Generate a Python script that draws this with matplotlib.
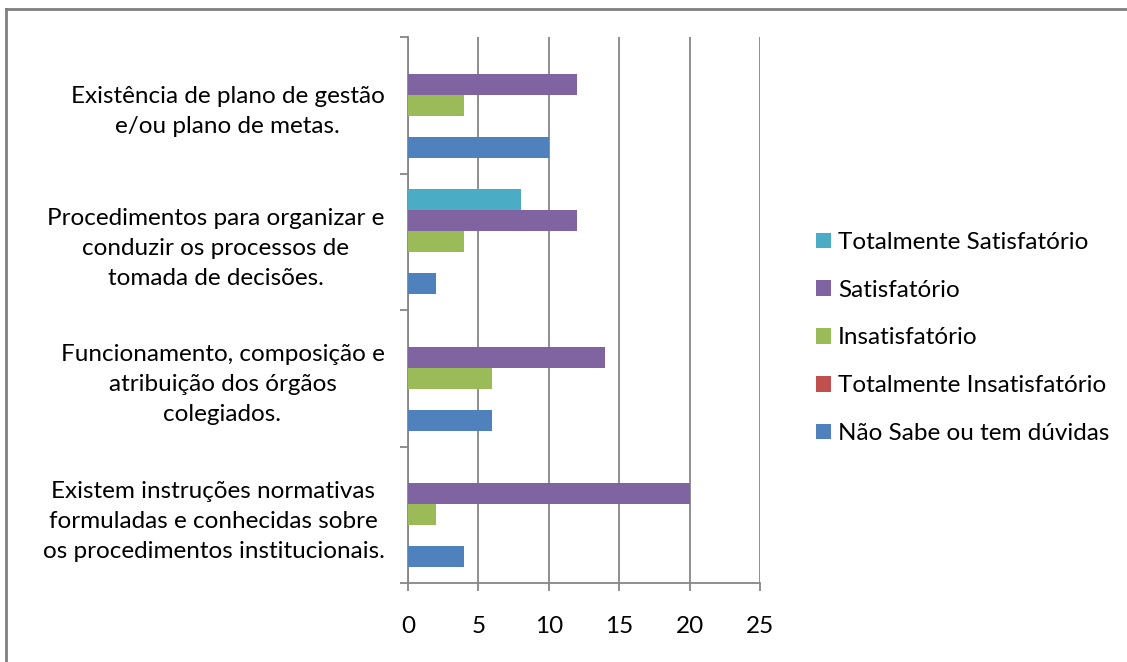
import matplotlib.pyplot as plt
from matplotlib.lines import Line2D
import numpy as np

plt.rcParams['font.family'] = ['Lato', 'DejaVu Sans']

# Categories from bottom to top
categories = [
    "Existem instruções normativas\nformuladas e conhecidas sobre\nos procedimentos institucionais.",
    "Funcionamento, composição e\natribuição dos órgãos\ncolegiados.",
    "Procedimentos para organizar e\nconduzir os processos de\ntomada de decisões.",
    "Existência de plano de gestão\ne/ou plano de metas.",
]

series_names = ["Não Sabe ou tem dúvidas", "Totalmente Insatisfatório",
                "Insatisfatório", "Satisfatório", "Totalmente Satisfatório"]
nao_sabe = [4, 6, 2, 10]
tot_insat = [0, 0, 0, 0]
insat = [2, 6, 4, 4]
satisf = [20, 14, 12, 12]
tot_satisf = [0, 0, 8, 0]
colors = ["#4F81BD", "#C0504D", "#9BBB59", "#8064A2", "#4BACC6"]

values = [nao_sabe, tot_insat, insat, satisf, tot_satisf]
fs = 17.5

fig = plt.figure(figsize=(11.27, 6.62), dpi=100)
ax = fig.add_axes([408 / 1127, 1 - 583 / 662, 352 / 1127, 546 / 662])

y = np.arange(len(categories))
h = 0.154
for k, (name, vals, col) in enumerate(zip(series_names, values, colors)):
    ax.barh(y + (k - 2) * h, vals, height=h, color=col, label=name,
            linewidth=0, zorder=3)

ax.set_xlim(0, 25)
ax.set_ylim(-0.5, 3.5)
ax.set_xticks(range(0, 26, 5))
ax.set_yticks(y)
ax.set_yticklabels(categories, multialignment='center', fontsize=fs,
                   linespacing=1.52)
ax.set_yticks(np.arange(-0.5, 3.6, 1), minor=True)
ax.tick_params(axis='y', which='major', length=0, pad=17)
ax.tick_params(axis='y', which='minor', length=6, color='#868686', width=1.3,
               direction='out')
ax.tick_params(axis='x', length=6, color='#868686', width=1.3, labelsize=fs,
               pad=17.5)
ax.grid(axis='x', color='#868686', linewidth=1.3, zorder=0)
for s in ['top', 'right']:
    ax.spines[s].set_visible(False)
for s in ['left', 'bottom']:
    ax.spines[s].set_color('#868686')
    ax.spines[s].set_linewidth(1.3)

handles, labels = ax.get_legend_handles_labels()
fig.legend(handles[::-1], labels[::-1], loc='center left',
           bbox_to_anchor=(794 / 1127, 1 - 338 / 662), frameon=False,
           fontsize=fs, handlelength=0.62, handleheight=0.62,
           handletextpad=0.3, labelspacing=1.1)

# outer chart frame
fig.add_artist(Line2D([5.5 / 1127, 5.5 / 1127], [0, 1 - 8.5 / 662],
                      color='#7f7f7f', linewidth=2, transform=fig.transFigure))
fig.add_artist(Line2D([5.5 / 1127, 1], [1 - 8.5 / 662, 1 - 8.5 / 662],
                      color='#7f7f7f', linewidth=2, transform=fig.transFigure))

fig.savefig("out.png", dpi=100)
